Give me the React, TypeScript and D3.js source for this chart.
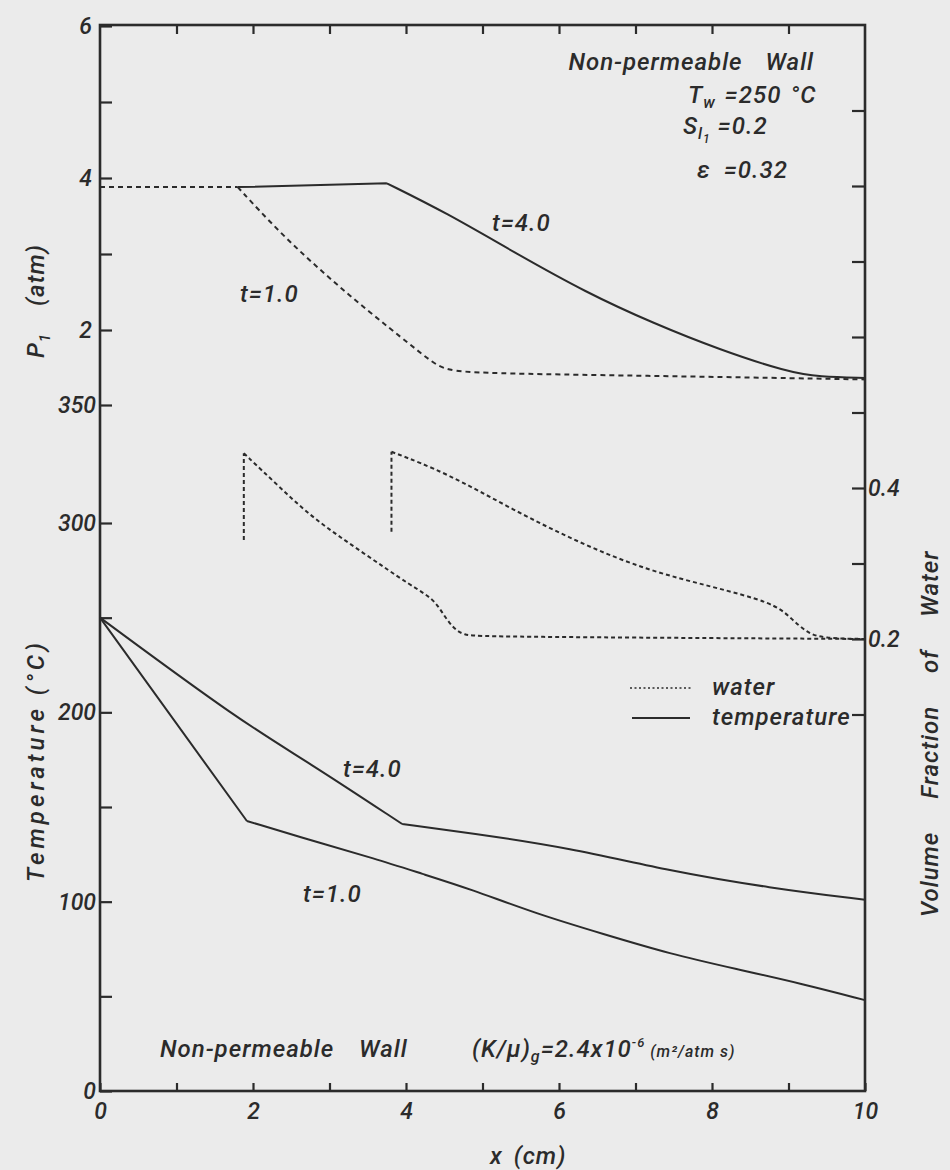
import { useEffect, useRef } from "react"
import { axisBottom, axisLeft, axisRight, axisTop, curveBasis, line, scaleLinear, select } from "d3"

// x position (cm)
const xTickValues = [0, 1, 2, 3, 4, 5, 6, 7, 8, 9, 10]
const xLabelled = [0, 2, 4, 6, 8, 10]

// pressure P1 (atm), upper panel
const pressureTicks = [2, 3, 4, 5, 6]
const pressureT1X = [0, 1.8, 2.35, 2.92, 3.49, 4.09, 4.35, 4.53, 4.97, 7.0, 10]
const pressureT1 = [3.88, 3.88, 3.28, 2.75, 2.26, 1.78, 1.57, 1.47, 1.43, 1.4, 1.35]
const pressureT4X = [1.8, 3.75, 4.53, 5.4, 6.36, 7.23, 8.1, 8.98, 9.41, 10]
const pressureT4 = [3.88, 3.93, 3.54, 3.03, 2.49, 2.09, 1.74, 1.45, 1.38, 1.37]

// volume fraction of water, right axis
const waterTicks = [0.1, 0.2, 0.3, 0.4, 0.5, 0.6, 0.7, 0.8, 0.9]
const waterT1X = [1.88, 1.88, 2.35, 2.78, 3.44, 4.09, 4.35, 4.48, 4.61, 4.75, 5.0, 10]
const waterT1 = [0.331, 0.446, 0.401, 0.36, 0.314, 0.269, 0.254, 0.234, 0.215, 0.205, 0.203, 0.2]
const waterT4X = [3.81, 3.81, 4.53, 5.4, 6.27, 7.15, 8.01, 8.8, 9.02, 9.24, 9.45, 10]
const waterT4 = [0.342, 0.448, 0.42, 0.371, 0.327, 0.291, 0.269, 0.248, 0.229, 0.208, 0.201, 0.2]

// temperature (C), lower panel
const tempTicks = [0, 50, 100, 150, 200, 250, 300, 350]
const tempLabelled = [0, 100, 200, 300, 350]
const tempT4X = [0, 1.83, 2.7, 3.95, 4.84, 6.14, 7.45, 8.76, 10]
const tempT4 = [250, 195.5, 174.3, 141, 136.3, 128.4, 116.2, 107.2, 101]
const tempT1X = [0, 1.92, 2.92, 3.57, 4.22, 4.84, 5.71, 6.58, 7.45, 8.32, 9.19, 10]
const tempT1 = [250, 142.6, 130.5, 123, 114.6, 106.7, 93.5, 82.9, 72.4, 64.4, 56.5, 48]

const W = 950
const H = 1170
const FONT = "Roboto, 'Open Sans', sans-serif"
const INK = "#2b2b2b"
const BG = "#ebebeb"

const x = scaleLinear().domain([0, 10]).range([100, 865])
const pressure = scaleLinear().domain([1, 6]).range([406, 26])
// the printed temperature axis is stretched between 300 and 350
const temperature = scaleLinear().domain([0, 300, 350]).range([1091, 523, 405])
const water = scaleLinear().domain([0.2, 0.4]).range([639, 488])

function Axis({ axis, transform }) {
  const ref = useRef(null)
  useEffect(() => {
    if (ref.current) {
      const g = select(ref.current)
      g.call(axis)
      g.select(".domain").remove()
      g.attr("font-size", null).attr("font-family", null)
      g.selectAll("line").attr("stroke", INK).attr("stroke-width", 2.2)
      g.selectAll("text")
        .attr("fill", INK)
        .attr("font-family", FONT)
        .attr("font-style", "italic")
        .attr("font-weight", 500)
        .attr("font-size", "23px")
    }
  }, [axis])
  return <g ref={ref} transform={transform} />
}

// breaks = indices of sharp corners; each piece is smoothed on its own
function Curve({ xs, ys, yScale, dash, breaks = [] }) {
  const pts = xs.map((d, i) => [d, ys[i]])
  const cuts = [0, ...breaks, pts.length - 1]
  const gen = line()
    .x((d) => x(d[0]))
    .y((d) => yScale(d[1]))
    .curve(curveBasis)
  const d = cuts
    .slice(0, -1)
    .map((c, i) => gen(pts.slice(c, cuts[i + 1] + 1)))
    .join("")
  return (
    <path
      d={d}
      fill="none"
      stroke={INK}
      strokeWidth={2}
      strokeDasharray={dash}
      strokeLinejoin="round"
    />
  )
}

export default function App() {
  const bottomAxis = axisBottom(x)
    .tickValues(xTickValues)
    .tickSizeInner(-8)
    .tickSizeOuter(0)
    .tickPadding(12)
    .tickFormat((d) => (xLabelled.includes(d) ? String(d) : ""))
  const topAxis = axisTop(x)
    .tickValues(xTickValues.slice(1, -1))
    .tickSizeInner(-9)
    .tickSizeOuter(0)
    .tickFormat(() => "")
  const pressureAxis = axisLeft(pressure)
    .tickValues(pressureTicks)
    .tickSizeInner(-12)
    .tickSizeOuter(0)
    .tickPadding(8)
    .tickFormat((d) => (d % 2 === 0 ? String(d) : ""))
  const tempAxis = axisLeft(temperature)
    .tickValues(tempTicks)
    .tickSizeInner(-12)
    .tickSizeOuter(0)
    .tickPadding(4)
    .tickFormat((d) => (tempLabelled.includes(d) ? String(d) : ""))
  const waterAxis = axisRight(water)
    .tickValues(waterTicks)
    .tickSizeInner(-13)
    .tickSizeOuter(0)
    .tickPadding(3)
    .tickFormat((d) => {
      const k = Math.round(d * 10)
      return k === 2 || k === 4 ? d.toFixed(1) : ""
    })

  const txt = {
    fontFamily: FONT,
    fontStyle: "italic",
    fontWeight: 500,
    fontSize: 24,
    letterSpacing: 1,
    fill: INK
  }

  return (
    <svg width={W} height={H} style={{ position: "absolute", left: 0, top: 0 }}>
      <rect width={W} height={H} fill={BG} />

      <Axis axis={bottomAxis} transform="translate(0,1091)" />
      <Axis axis={topAxis} transform="translate(0,25)" />
      <Axis axis={pressureAxis} transform="translate(100,0)" />
      <Axis axis={tempAxis} transform="translate(100,0)" />
      <Axis axis={waterAxis} transform="translate(865,0)" />

      <rect x={100} y={25} width={765} height={1066} fill="none" stroke={INK} strokeWidth={2.6} />

      <Curve xs={pressureT1X} ys={pressureT1} yScale={pressure} dash="5,4" breaks={[1]} />
      <Curve xs={pressureT4X} ys={pressureT4} yScale={pressure} breaks={[1]} />
      <Curve xs={waterT1X} ys={waterT1} yScale={water} dash="4,3" breaks={[1]} />
      <Curve xs={waterT4X} ys={waterT4} yScale={water} dash="4,3" breaks={[1]} />
      <Curve xs={tempT4X} ys={tempT4} yScale={temperature} breaks={[3]} />
      <Curve xs={tempT1X} ys={tempT1} yScale={temperature} breaks={[1]} />

      {/* annotations, top right */}
      <text {...txt} x={814} y={70} textAnchor="end" wordSpacing={16}>Non-permeable Wall</text>
      <text {...txt} x={688} y={103}>
        T<tspan fontSize={16} dy={5}>w</tspan>
        <tspan dy={-5} wordSpacing={2}> =250 °C</tspan>
      </text>
      <text {...txt} x={683} y={134}>
        S<tspan fontSize={16} dy={5}>l</tspan>
        <tspan fontSize={12} dy={4}>1</tspan>
        <tspan dy={-9}> =0.2</tspan>
      </text>
      <text {...txt} x={697} y={178} wordSpacing={6}>ε =0.32</text>

      <text {...txt} x={492} y={231}>t=4.0</text>
      <text {...txt} x={240} y={302}>t=1.0</text>
      <text {...txt} x={343} y={777}>t=4.0</text>
      <text {...txt} x={303} y={902}>t=1.0</text>

      {/* legend */}
      <line x1={630} x2={692} y1={688} y2={688} stroke={INK} strokeWidth={1.6} strokeDasharray="2,2.5" />
      <text {...txt} x={712} y={695}>water</text>
      <line x1={632} x2={690} y1={718} y2={718} stroke={INK} strokeWidth={1.8} />
      <text {...txt} x={712} y={725}>temperature</text>

      {/* bottom annotations */}
      <text {...txt} x={160} y={1057} wordSpacing={18}>Non-permeable Wall</text>
      <text {...txt} x={472} y={1057}>
        (K/μ)<tspan fontSize={16} dy={5}>g</tspan>
        <tspan dy={-5}>=2.4x10</tspan>
        <tspan fontSize={13} dy={-10}>-6</tspan>
        <tspan fontSize={16} dy={10}> (m²/atm s)</tspan>
      </text>

      {/* axis titles */}
      <text {...txt} x={490} y={1164} wordSpacing={4}>x (cm)</text>
      <text {...txt} transform="translate(44,358) rotate(-90)">
        P<tspan fontSize={15} dy={6}>1</tspan>
        <tspan dy={-6} wordSpacing={20}> (atm)</tspan>
      </text>
      <text {...txt} letterSpacing={4} transform="translate(44,882) rotate(-90)">
        Temperature (°C)
      </text>
      <text {...txt} wordSpacing={26} transform="translate(938,917) rotate(-90)">
        Volume Fraction of Water
      </text>
    </svg>
  )
}
